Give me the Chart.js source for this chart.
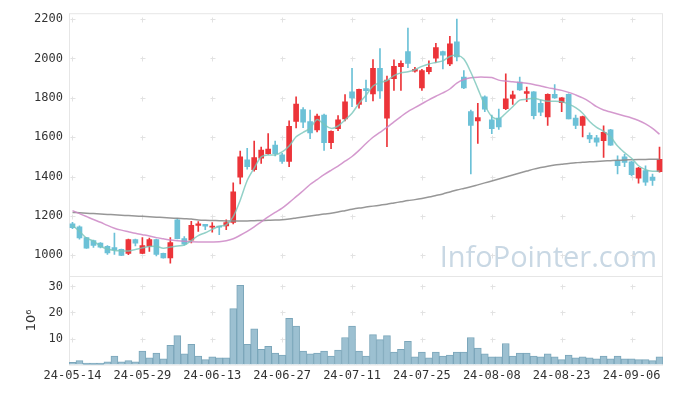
<!DOCTYPE html>
<html>
<head>
<meta charset="utf-8">
<script src="https://cdn.jsdelivr.net/npm/chart.js@4.4.1/dist/chart.umd.min.js"></script>
<style>
  html, body { margin: 0; padding: 0; background: #fff; }
</style>
</head>
<body>
<canvas id="stock-chart" width="673" height="396"></canvas>
<script>
/* 일봉 + 이동평균 + 거래량 */
var dates = [
	'24-05-14','24-05-16','24-05-17','24-05-20','24-05-21','24-05-22','24-05-23','24-05-24','24-05-27','24-05-28',
	'24-05-29','24-05-30','24-05-31','24-06-03','24-06-04','24-06-05','24-06-07','24-06-10','24-06-11','24-06-12',
	'24-06-13','24-06-14','24-06-17','24-06-18','24-06-19','24-06-20','24-06-21','24-06-24','24-06-25','24-06-26',
	'24-06-27','24-06-28','24-07-01','24-07-02','24-07-03','24-07-04','24-07-05','24-07-08','24-07-09','24-07-10',
	'24-07-11','24-07-12','24-07-15','24-07-16','24-07-17','24-07-18','24-07-19','24-07-22','24-07-23','24-07-24',
	'24-07-25','24-07-26','24-07-29','24-07-30','24-07-31','24-08-01','24-08-02','24-08-05','24-08-06','24-08-07',
	'24-08-08','24-08-09','24-08-12','24-08-13','24-08-14','24-08-16','24-08-19','24-08-20','24-08-21','24-08-22',
	'24-08-23','24-08-26','24-08-27','24-08-28','24-08-29','24-08-30','24-09-02','24-09-03','24-09-04','24-09-05',
	'24-09-06','24-09-09','24-09-10','24-09-11','24-09-12'
];

var openP = [
	1160,1145,1090,1075,1062,1046,1040,1030,1010,1080,
	1010,1047,1080,1010,987,1180,1085,1077,1152,1157,
	1143,1147,1150,1167,1397,1485,1435,1493,1517,1560,
	1510,1477,1680,1740,1680,1637,1713,1572,1643,1693,
	1830,1767,1847,1820,1950,1697,1897,1958,2035,1935,
	1850,1933,2002,2035,1972,2085,1905,1730,1683,1805,
	1688,1697,1745,1797,1880,1823,1830,1772,1703,1818,
	1775,1818,1697,1660,1610,1597,1583,1637,1483,1500,
	1475,1392,1430,1397,1425
];
var highP = [
	1168,1150,1092,1078,1065,1050,1113,1032,1082,1082,
	1090,1088,1082,1012,1090,1188,1095,1173,1172,1158,
	1167,1148,1180,1368,1530,1543,1580,1550,1618,1580,
	1518,1683,1805,1750,1738,1717,1717,1632,1710,1817,
	1950,1845,1890,1995,2050,1910,1993,1988,2155,1955,
	1945,1988,2077,2037,2113,2200,1938,1738,1772,1810,
	1713,1743,1922,1835,1905,1855,1832,1788,1820,1868,
	1802,1820,1713,1707,1622,1610,1658,1640,1505,1513,
	1477,1447,1455,1413,1550
];
var lowP = [
	1135,1082,1035,1040,1038,1005,1005,998,1003,1048,
	1008,1020,997,985,960,1083,1052,1063,1122,1130,
	1118,1105,1130,1160,1363,1438,1427,1467,1513,1505,
	1467,1450,1647,1648,1593,1627,1533,1542,1633,1683,
	1755,1747,1780,1785,1797,1552,1838,1838,1953,1930,
	1838,1922,1980,1947,1963,1988,1847,1413,1568,1730,
	1618,1640,1740,1767,1838,1780,1693,1710,1660,1797,
	1730,1693,1643,1602,1572,1555,1497,1558,1413,1450,
	1403,1367,1355,1355,1423
];
var closeP = [
	1140,1088,1037,1050,1042,1012,1028,1000,1080,1062,
	1050,1080,1005,987,1065,1085,1057,1153,1160,1148,
	1147,1143,1167,1322,1500,1450,1497,1535,1540,1517,
	1477,1655,1768,1677,1622,1708,1572,1630,1688,1780,
	1800,1843,1837,1950,1835,1890,1960,1975,1975,1945,
	1938,1955,2055,2017,2075,2008,1850,1660,1700,1742,
	1643,1652,1795,1815,1840,1832,1710,1727,1818,1800,
	1800,1693,1660,1705,1592,1575,1625,1560,1455,1472,
	1410,1443,1372,1380,1488
];

// 거래량 (백만주)
var volume = [
	0.9,1.5,0.6,0.6,0.6,1.1,3.3,1.1,1.5,1.1,
	5.2,2.6,4.4,2.2,7.4,11.1,4.1,7.8,3.3,1.9,
	3.0,2.6,2.6,21.5,30.4,7.8,13.7,5.9,7.0,4.4,
	3.7,17.8,14.8,5.2,4.1,4.4,5.2,3.3,5.6,10.4,
	14.8,5.2,3.3,11.5,9.6,11.1,4.8,5.9,8.9,3.0,
	4.8,2.6,4.8,3.3,3.7,4.8,4.8,10.4,6.3,4.1,
	3.0,3.0,8.1,3.3,4.4,4.4,3.3,3.0,4.1,3.0,
	1.9,3.7,2.6,3.0,2.6,2.2,3.3,2.2,3.3,2.2,
	2.2,1.9,1.9,1.5,3.0
];

var ma5 = [
	1152,1122,1088,1072,1047,1032,1025,1023,1022,1030,
	1038,1045,1046,1036,1042,1048,1052,1075,1100,1115,
	1132,1148,1155,1197,1280,1380,1443,1500,1510,1510,
	1525,1555,1602,1625,1645,1690,1665,1645,1657,1688,
	1722,1772,1813,1860,1877,1888,1913,1927,1933,1943,
	1960,1972,1980,1988,2010,2017,1997,1930,1847,1763,
	1705,1693,1722,1755,1788,1793,1798,1790,1783,1783,
	1780,1768,1750,1722,1680,1650,1630,1602,1555,1522,
	1493,1455,1435,1427,1428
];
var ma20 = [
	1227,1212,1197,1182,1168,1152,1138,1128,1120,1112,
	1105,1098,1090,1084,1078,1074,1071,1069,1068,1068,
	1068,1069,1074,1084,1102,1122,1145,1170,1195,1218,
	1240,1268,1298,1328,1360,1385,1410,1432,1453,1478,
	1502,1533,1568,1600,1625,1650,1678,1705,1730,1750,
	1770,1790,1808,1825,1845,1875,1893,1902,1905,1905,
	1903,1890,1885,1882,1878,1874,1868,1860,1852,1845,
	1838,1828,1815,1800,1780,1755,1738,1728,1718,1708,
	1698,1685,1668,1645,1615
];
var ma120 = [
	1218,1216,1214,1212,1210,1208,1206,1204,1202,1200,
	1198,1196,1194,1192,1190,1188,1186,1184,1180,1178,
	1177,1176,1175,1174,1174,1175,1176,1177,1178,1179,
	1181,1185,1190,1195,1200,1205,1210,1214,1220,1227,
	1234,1240,1245,1250,1255,1260,1266,1272,1278,1283,
	1289,1296,1304,1312,1322,1332,1340,1348,1358,1368,
	1378,1388,1398,1408,1418,1428,1438,1446,1453,1459,
	1463,1467,1470,1473,1475,1477,1479,1481,1483,1484,
	1486,1487,1487,1488,1488
];

var UP = '#ec3439';
var DOWN = '#6cc1d7';
var tickFont = { family: 'DejaVu Sans Mono', size: 12 };

var candleColor = closeP.map(function(c, i){ return c >= openP[i] ? UP : DOWN; });
var bodies = openP.map(function(o, i){ return [o, closeP[i]]; });
var wicks = lowP.map(function(l, i){ return [l, highP[i]]; });

var panelPlugin = {
	id: 'panel',
	beforeDatasetsDraw: function(chart){
		var ctx = chart.ctx, a = chart.chartArea;
		var sx = chart.scales.x, sy = chart.scales.y, sv = chart.scales.yVol;
		ctx.save();
		// 워터마크
		ctx.font = '29px "Open Sans"';
		ctx.fillStyle = '#c9d8e4';
		ctx.textAlign = 'right';
		ctx.textBaseline = 'alphabetic';
		ctx.fillText('InfoPointer.com', a.right - 6, sy.bottom - 9);
		// 격자 십자
		ctx.strokeStyle = '#e2e2e2';
		ctx.lineWidth = 1;
		[sy, sv].forEach(function(s){
			s.ticks.forEach(function(t){
				if (t.value === 0) return;
				var py = Math.round(s.getPixelForValue(t.value)) + 0.5;
				sx.ticks.forEach(function(xt){
					var px = Math.round(sx.getPixelForValue(xt.value)) + 0.5;
					ctx.beginPath();
					ctx.moveTo(px - 2, py); ctx.lineTo(px + 3, py);
					ctx.moveTo(px, py - 2); ctx.lineTo(px, py + 3);
					ctx.stroke();
				});
			});
		});
		// 테두리
		ctx.strokeStyle = '#e6e6e6';
		ctx.strokeRect(a.left + 0.5, a.top + 0.5, a.right - a.left - 1, a.bottom - a.top);
		ctx.beginPath();
		ctx.moveTo(a.left, Math.round(sy.bottom) + 0.5);
		ctx.lineTo(a.right, Math.round(sy.bottom) + 0.5);
		ctx.stroke();
		ctx.restore();
	}
};

var config = {
	type: 'bar',
	data: {
		labels: dates,
		datasets: [{
			type: 'line', label: 'MA5', data: ma5, yAxisID: 'y', order: 0,
			borderColor: 'rgba(120,198,186,0.8)', borderWidth: 1.5, pointRadius: 0, tension: 0.3
		}, {
			type: 'line', label: 'MA20', data: ma20, yAxisID: 'y', order: 0,
			borderColor: 'rgba(205,135,198,0.85)', borderWidth: 1.5, pointRadius: 0, tension: 0.3
		}, {
			type: 'line', label: 'MA120', data: ma120, yAxisID: 'y', order: 0,
			borderColor: 'rgba(140,140,140,0.9)', borderWidth: 1.5, pointRadius: 0, tension: 0.3
		}, {
			label: 'body', data: bodies, yAxisID: 'y', order: 1, grouped: false,
			backgroundColor: candleColor, barThickness: 5, minBarLength: 1
		}, {
			label: 'wick', data: wicks, yAxisID: 'y', order: 2, grouped: false,
			backgroundColor: candleColor, barThickness: 1
		}, {
			label: 'volume', data: volume, yAxisID: 'yVol', order: 3, grouped: false,
			backgroundColor: '#9cc0d1', borderColor: '#7ba6ba', borderWidth: 1,
			barPercentage: 1, categoryPercentage: 1
		}]
	},
	options: {
		responsive: false,
		animation: false,
		layout: { padding: { top: 10, right: 10, bottom: 9, left: 0 } },
		plugins: { legend: { display: false }, tooltip: { enabled: false } },
		scales: {
			x: {
				type: 'category',
				offset: true,
				grid: { display: false, drawTicks: false },
				border: { display: false },
				ticks: { autoSkip: false, maxRotation: 0, padding: 4, color: '#333', font: tickFont },
				afterBuildTicks: function(s){
					s.ticks = s.ticks.filter(function(t){ return t.value % 10 === 0; });
				}
			},
			yVol: {
				position: 'left', stack: 'panels', stackWeight: 90,
				min: 0, max: 34,
				grid: { display: false, drawTicks: false },
				border: { display: false },
				ticks: {
					stepSize: 10, includeBounds: false, autoSkip: false, padding: 6, color: '#333', font: tickFont,
					callback: function(v){ return v === 0 ? '' : String(v); }
				},
				title: { display: true, text: '10⁶', color: '#333', font: { family: 'DejaVu Sans', size: 13 }, padding: { top: 24, bottom: 0 } },
				afterFit: function(s){ s.width = 69; }
			},
			y: {
				position: 'left', stack: 'panels', stackWeight: 267,
				min: 895, max: 2230,
				grid: { display: false, drawTicks: false },
				border: { display: false },
				ticks: {
					stepSize: 200, includeBounds: false, autoSkip: false, padding: 6, color: '#333', font: tickFont,
					callback: function(v){ return String(v); }
				},
				afterFit: function(s){ s.width = 69; }
			}
		}
	},
	plugins: [panelPlugin]
};

var ctx = document.getElementById('stock-chart').getContext('2d');
window.stockChart = new Chart(ctx, config);
</script>
</body>
</html>
